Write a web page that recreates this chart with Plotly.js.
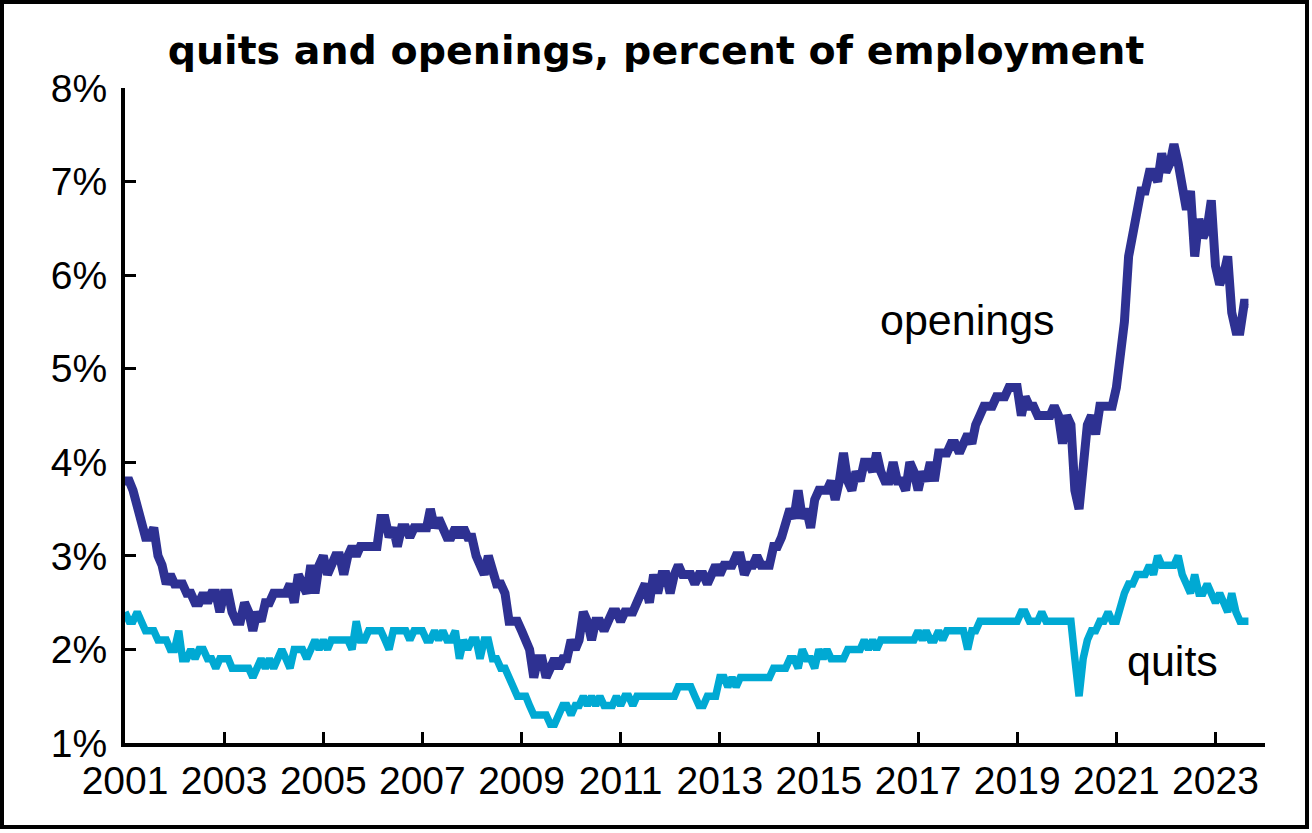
<!DOCTYPE html>
<html>
<head>
<meta charset="utf-8">
<script src="https://cdn.plot.ly/plotly-3.0.1.min.js"></script>
<style>
  html, body { margin: 0; padding: 0; background: #ffffff; }
  #wrap { position: relative; width: 1312px; height: 833px; }
  #chart { position: absolute; left: 0; top: 0; width: 1312px; height: 833px; }
  #frame { position: absolute; left: 0; top: 0; width: 1309px; height: 829px;
           box-sizing: border-box; border: 4px solid #000; pointer-events: none; }
</style>
</head>
<body>
<div id="wrap">
  <div id="chart"></div>
  <div id="frame"></div>
</div>
<script>
// Monthly series, Jan 2001 .. Sep 2023 (percent of employment)
const startYear = 2001;
const startMonth = 1;

const openings = [
  // 2001
  3.8, 3.8, 3.7, 3.5, 3.4, 3.2, 3.2, 3.3, 3.0, 2.9, 2.7, 2.8,
  // 2002
  2.7, 2.7, 2.7, 2.6, 2.6, 2.5, 2.5, 2.6, 2.5, 2.6, 2.6, 2.4,
  // 2003
  2.6, 2.6, 2.4, 2.3, 2.3, 2.5, 2.4, 2.2, 2.4, 2.3, 2.5, 2.5,
  // 2004
  2.6, 2.6, 2.6, 2.6, 2.7, 2.5, 2.8, 2.7, 2.6, 2.9, 2.6, 2.9,
  // 2005
  3.0, 2.8, 2.9, 3.0, 3.0, 2.8, 3.0, 3.1, 3.0, 3.1, 3.1, 3.1,
  // 2006
  3.1, 3.1, 3.4, 3.4, 3.2, 3.3, 3.1, 3.3, 3.3, 3.2, 3.3, 3.3,
  // 2007
  3.3, 3.3, 3.5, 3.3, 3.4, 3.3, 3.2, 3.2, 3.3, 3.2, 3.3, 3.2,
  // 2008
  3.2, 3.0, 2.9, 2.8, 3.0, 2.8, 2.7, 2.7, 2.6, 2.3, 2.3, 2.3,
  // 2009
  2.2, 2.1, 2.0, 1.7, 1.9, 1.9, 1.7, 1.8, 1.9, 1.8, 1.9, 1.9,
  // 2010
  2.1, 2.0, 2.1, 2.4, 2.3, 2.1, 2.3, 2.3, 2.2, 2.3, 2.4, 2.4,
  // 2011
  2.3, 2.4, 2.4, 2.4, 2.5, 2.6, 2.7, 2.5, 2.8, 2.6, 2.8, 2.8,
  // 2012
  2.6, 2.8, 2.9, 2.8, 2.8, 2.8, 2.7, 2.8, 2.8, 2.7, 2.8, 2.9,
  // 2013
  2.8, 2.9, 2.9, 2.9, 3.0, 3.0, 2.8, 2.9, 2.9, 3.0, 2.9, 2.9,
  // 2014
  2.9, 3.1, 3.1, 3.2, 3.4, 3.5, 3.4, 3.7, 3.4, 3.5, 3.3, 3.6,
  // 2015
  3.7, 3.7, 3.7, 3.8, 3.6, 3.8, 4.1, 3.8, 3.7, 3.9, 3.8, 4.0,
  // 2016
  4.0, 3.9, 4.1, 3.9, 3.8, 3.8, 4.0, 3.8, 3.8, 3.7, 4.0, 3.9,
  // 2017
  3.7, 3.9, 3.8, 4.0, 3.8, 4.1, 4.1, 4.1, 4.2, 4.2, 4.1, 4.2,
  // 2018
  4.3, 4.2, 4.4, 4.5, 4.6, 4.6, 4.6, 4.7, 4.7, 4.7, 4.8, 4.8,
  // 2019
  4.8, 4.5, 4.7, 4.6, 4.6, 4.5, 4.5, 4.5, 4.5, 4.6, 4.5, 4.2,
  // 2020
  4.5, 4.4, 3.7, 3.5, 4.0, 4.4, 4.5, 4.3, 4.6, 4.6, 4.6, 4.6,
  // 2021
  4.8, 5.1, 5.5, 6.2, 6.4, 6.7, 6.9, 6.9, 7.1, 7.1, 7.0, 7.3,
  // 2022
  7.1, 7.2, 7.4, 7.2, 7.0, 6.7, 6.9, 6.2, 6.6, 6.4, 6.5, 6.8,
  // 2023
  6.1, 5.9, 6.0, 6.2, 5.6, 5.4, 5.4, 5.7, 5.7
];

const quits = [
  // 2001
  2.4, 2.3, 2.3, 2.4, 2.3, 2.2, 2.2, 2.2, 2.1, 2.1, 2.1, 2.0,
  // 2002
  2.0, 2.2, 1.9, 1.9, 2.0, 1.9, 2.0, 2.0, 1.9, 1.9, 1.8, 1.9,
  // 2003
  1.9, 1.9, 1.8, 1.8, 1.8, 1.8, 1.8, 1.7, 1.8, 1.9, 1.8, 1.9,
  // 2004
  1.8, 1.9, 2.0, 1.9, 1.8, 2.0, 2.0, 2.0, 1.9, 2.0, 2.1, 2.0,
  // 2005
  2.1, 2.0, 2.1, 2.1, 2.1, 2.1, 2.1, 2.0, 2.3, 2.1, 2.1, 2.2,
  // 2006
  2.2, 2.2, 2.2, 2.1, 2.0, 2.2, 2.2, 2.2, 2.2, 2.1, 2.2, 2.2,
  // 2007
  2.2, 2.1, 2.1, 2.2, 2.1, 2.2, 2.1, 2.1, 2.2, 1.9, 2.1, 2.0,
  // 2008
  2.1, 2.1, 1.9, 2.1, 2.1, 1.9, 1.9, 1.8, 1.8, 1.7, 1.6, 1.5,
  // 2009
  1.5, 1.5, 1.4, 1.3, 1.3, 1.3, 1.3, 1.2, 1.2, 1.3, 1.4, 1.4,
  // 2010
  1.3, 1.4, 1.4, 1.5, 1.4, 1.5, 1.4, 1.5, 1.4, 1.4, 1.4, 1.5,
  // 2011
  1.4, 1.5, 1.5, 1.4, 1.5, 1.5, 1.5, 1.5, 1.5, 1.5, 1.5, 1.5,
  // 2012
  1.5, 1.5, 1.6, 1.6, 1.6, 1.6, 1.5, 1.4, 1.4, 1.5, 1.5, 1.5,
  // 2013
  1.7, 1.7, 1.6, 1.7, 1.6, 1.7, 1.7, 1.7, 1.7, 1.7, 1.7, 1.7,
  // 2014
  1.7, 1.8, 1.8, 1.8, 1.8, 1.9, 1.9, 1.8, 2.0, 1.9, 1.9, 1.8,
  // 2015
  2.0, 1.9, 2.0, 1.9, 1.9, 1.9, 1.9, 2.0, 2.0, 2.0, 2.0, 2.1,
  // 2016
  2.0, 2.1, 2.0, 2.1, 2.1, 2.1, 2.1, 2.1, 2.1, 2.1, 2.1, 2.1,
  // 2017
  2.2, 2.1, 2.2, 2.1, 2.1, 2.2, 2.1, 2.2, 2.2, 2.2, 2.2, 2.2,
  // 2018
  2.0, 2.2, 2.2, 2.3, 2.3, 2.3, 2.3, 2.3, 2.3, 2.3, 2.3, 2.3,
  // 2019
  2.3, 2.4, 2.4, 2.3, 2.3, 2.3, 2.4, 2.3, 2.3, 2.3, 2.3, 2.3,
  // 2020
  2.3, 2.3, 1.9, 1.5, 1.9, 2.1, 2.2, 2.2, 2.3, 2.3, 2.4, 2.3,
  // 2021
  2.3, 2.5, 2.6, 2.7, 2.7, 2.8, 2.8, 2.8, 2.9, 2.8, 3.0, 2.9,
  // 2022
  2.9, 2.9, 2.9, 3.0, 2.8, 2.7, 2.6, 2.8, 2.6, 2.6, 2.7, 2.6,
  // 2023
  2.5, 2.6, 2.5, 2.4, 2.6, 2.4, 2.3, 2.3, 2.3
];

const titleText = "quits and openings, percent of employment";
const openingsLabel = "openings";
const quitsLabel = "quits";
const tickYears = ["2001","2003","2005","2007","2009","2011","2013","2015","2017","2019","2021","2023"];
const yTickVals = [1, 2, 3, 4, 5, 6, 7, 8];
const yTickText = ["1%", "2%", "3%", "4%", "5%", "6%", "7%", "8%"];

// month dates for the x positions
const dates = [];
for (let i = 0; i < openings.length; i++) {
  const y = startYear + Math.floor((startMonth - 1 + i) / 12);
  const m = ((startMonth - 1 + i) % 12) + 1;
  dates.push(y + "-" + String(m).padStart(2, "0") + "-01");
}

const tickFont = { family: "Liberation Sans, Arial, sans-serif", size: 39, color: "#000" };

const traces = [
  {
    x: dates, y: openings, type: "scatter", mode: "lines", name: "openings",
    line: { color: "#2e3192", width: 9 }, hoverinfo: "skip"
  },
  {
    x: dates, y: quits, type: "scatter", mode: "lines", name: "quits",
    line: { color: "#00a9d3", width: 7.5 }, hoverinfo: "skip"
  }
];

const layout = {
  width: 1312, height: 833,
  margin: { l: 125, r: 47, t: 88, b: 90, pad: 0 },
  paper_bgcolor: "#ffffff", plot_bgcolor: "#ffffff",
  showlegend: false,
  title: {
    text: "<b>" + titleText + "</b>",
    font: { family: "DejaVu Sans, sans-serif", size: 39.5, color: "#000" },
    x: 0.5, xref: "container", xanchor: "center",
    y: 1 - 50 / 833, yref: "container", yanchor: "middle"
  },
  xaxis: {
    type: "date",
    range: ["2001-01-01", "2024-01-01"],
    tickvals: tickYears.map(t => t + "-01-01"),
    ticktext: tickYears,
    ticks: "inside", ticklen: 11, tickwidth: 3, tickcolor: "#000",
    showline: true, linewidth: 4, linecolor: "#000",
    showgrid: false, zeroline: false,
    tickfont: tickFont,
    fixedrange: true
  },
  yaxis: {
    range: [1, 8],
    tickvals: yTickVals,
    ticktext: yTickText,
    ticks: "inside", ticklen: 11, tickwidth: 3, tickcolor: "#000",
    showline: true, linewidth: 4, linecolor: "#000",
    showgrid: false, zeroline: false,
    tickfont: tickFont,
    ticklabelstandoff: 6,
    fixedrange: true
  },
  annotations: [
    {
      x: "2018-01-01", y: 5.52, xref: "x", yref: "y",
      text: openingsLabel, showarrow: false,
      font: { family: "Liberation Sans, Arial, sans-serif", size: 43, color: "#000" },
      xanchor: "center", yanchor: "middle"
    },
    {
      x: "2022-02-20", y: 1.88, xref: "x", yref: "y",
      text: quitsLabel, showarrow: false,
      font: { family: "Liberation Sans, Arial, sans-serif", size: 43, color: "#000" },
      xanchor: "center", yanchor: "middle"
    }
  ]
};

Plotly.newPlot("chart", traces, layout, { displayModeBar: false, staticPlot: true });
</script>
</body>
</html>
